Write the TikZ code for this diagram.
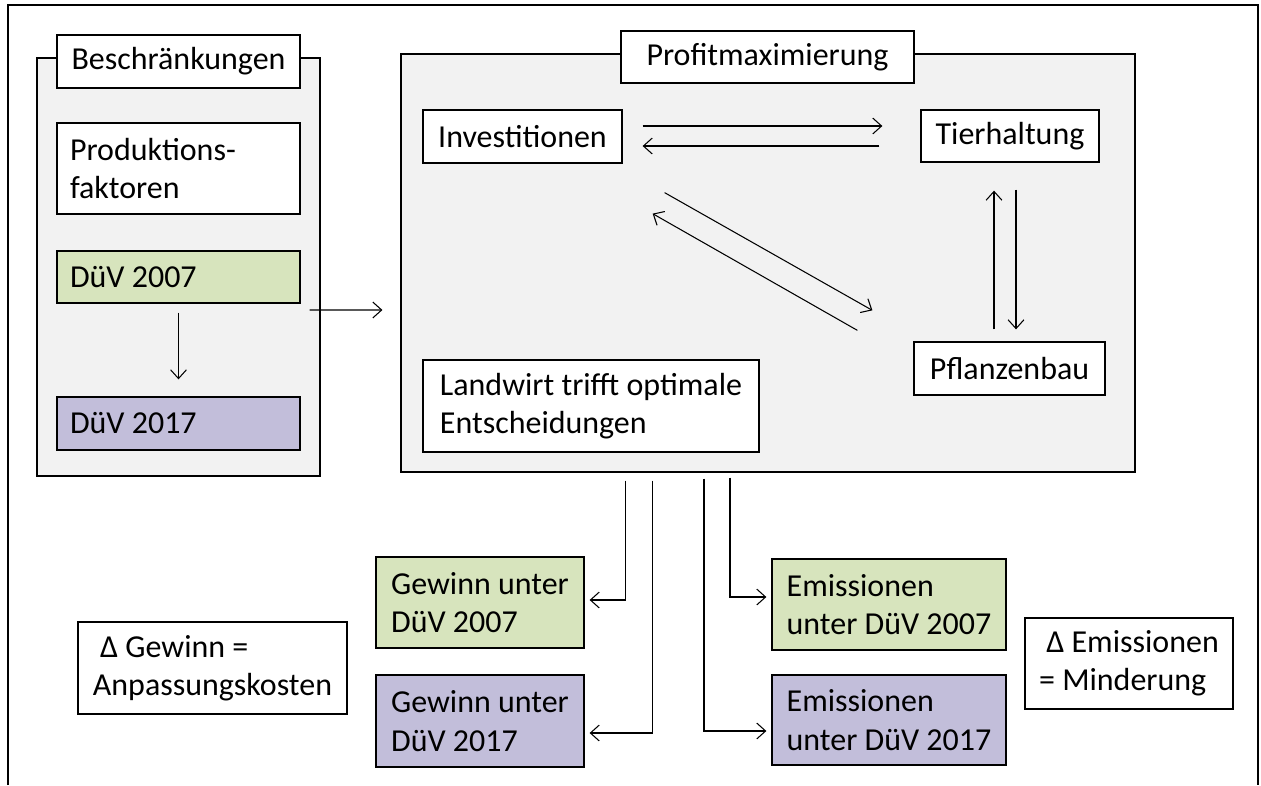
\documentclass[tikz,border=0pt]{standalone}
\usepackage{fontspec}
\setmainfont{Carlito}
\usetikzlibrary{arrows.meta}

\definecolor{framegray}{RGB}{242,242,242}
\definecolor{duvgreen}{RGB}{215,228,189}
\definecolor{duvpurple}{RGB}{194,190,218}

\tikzset{
  frame/.style={draw, fill=framegray, line width=0.75pt, inner sep=0pt},
  box/.style={draw, fill=white, line width=0.75pt, inner xsep=0.26cm, inner ysep=0pt},
  multibox/.style={box, align=left},
  widebox/.style={box, align=left, text width=4.34cm, execute at begin node={\spaceskip=0pt\xspaceskip=0pt\relax}},
}

\begin{document}
\begin{tikzpicture}[x=0.02cm, y=-0.02cm, font=\fontsize{18.2}{21.8}\selectfont,
  >={Straight Barb[length=5pt,width=9pt]}, line width=0.6pt]
\useasboundingbox (0,0) rectangle (1261,785);
\draw[line width=0.8pt] (8,785) -- (8,5) -- (1258,5) -- (1258,785);

\node[frame, minimum width=5.66cm, minimum height=8.36cm] (bframe) at (178.5,267) {};
\node[box, minimum width=4.86cm, minimum height=1.06cm] (besch) at (178.5,61.5) {Beschränkungen};
\node[widebox, minimum height=1.82cm] (prod) at (178.5,168.5) {Produktions-\\faktoren};
\node[widebox, fill=duvgreen, minimum height=1.04cm] (duv07) at (178.5,277) {DüV 2007};
\node[widebox, fill=duvpurple, minimum height=1.06cm] (duv17) at (178.5,423.5) {DüV 2017};

\node[frame, minimum width=14.68cm, minimum height=8.36cm] (pframe) at (768,263) {};
\node[box, minimum width=5.86cm, minimum height=1.04cm] (profit) at (767.5,57) {Profitmaximierung};
\node[box, minimum width=3.98cm, minimum height=1.06cm] (invest) at (522.5,136.5) {Investitionen};
\node[box, minimum width=3.56cm, minimum height=1.04cm] (tier) at (1010,136) {Tierhaltung};
\node[box, minimum width=3.82cm, minimum height=1.06cm] (pflanz) at (1009.5,368.5) {Pflanzenbau};
\node[multibox, minimum width=6.72cm, minimum height=1.84cm] (landwirt) at (591,406) {Landwirt trifft optimale\\Entscheidungen};

\node[multibox, fill=duvgreen, minimum width=4.16cm, minimum height=1.82cm] (gew07) at (480,602.5) {Gewinn unter\\DüV 2007};
\node[multibox, fill=duvpurple, minimum width=4.16cm, minimum height=1.84cm] (gew17) at (480,721) {Gewinn unter\\DüV 2017};
\node[multibox, fill=duvgreen, minimum width=4.68cm, minimum height=1.82cm] (emi07) at (889,604.5) {Emissionen\\unter DüV 2007};
\node[multibox, fill=duvpurple, minimum width=4.68cm, minimum height=1.80cm] (emi17) at (889,720) {Emissionen\\unter DüV 2017};
\node[multibox, minimum width=5.38cm, minimum height=1.84cm] (dgew) at (212.5,668) {~Δ Gewinn =\\Anpassungskosten};
\node[multibox, minimum width=4.16cm, minimum height=1.82cm] (demi) at (1129,663.5) {~Δ Emissionen\\= Minderung};

\draw[->, shorten <=0.18cm, shorten >=0.34cm] (duv07) -- (duv17);
\draw[->] ([shift={(-0.22cm,-0.86cm)}]bframe.east) -- ([shift={(-0.36cm,-0.94cm)}]pframe.west);

\draw[->, shorten <=0.4cm, shorten >=0.76cm] ([yshift=0.21cm]invest.east) -- ([yshift=0.21cm]invest.east -| tier.west);
\draw[->, shorten <=0.82cm, shorten >=0.4cm] ([yshift=-0.19cm]invest.east -| tier.west) -- ([yshift=-0.19cm]invest.east);
\draw[->] ([shift={(0.84cm,-0.58cm)}]invest.south east) -- ([shift={(-0.82cm,0.62cm)}]pflanz.north west);
\draw[->] ([shift={(-1.12cm,0.22cm)}]pflanz.north west) -- ([shift={(0.6cm,-1.0cm)}]invest.south east);
\draw[->, shorten <=0.24cm, shorten >=0.56cm] ([xshift=-0.31cm]pflanz.north) -- ([xshift=-0.31cm]pflanz.north |- tier.south);
\draw[->, shorten <=0.54cm, shorten >=0.24cm] ([xshift=0.13cm]pflanz.north |- tier.south) -- ([xshift=0.13cm]pflanz.north);

\draw[->] ([shift={(-2.86cm,-0.16cm)}]pframe.south) |- ([xshift=0.1cm, yshift=0.05cm]gew07.east);
\draw[->] ([shift={(-2.32cm,-0.16cm)}]pframe.south) |- ([xshift=0.1cm, yshift=-0.24cm]gew17.east);
\draw[->] ([shift={(-1.28cm,-0.12cm)}]pframe.south) |- ([xshift=-0.1cm, yshift=-0.22cm]emi17.west);
\draw[->] ([shift={(-0.76cm,-0.1cm)}]pframe.south) |- ([xshift=-0.1cm, yshift=0.15cm]emi07.west);
\end{tikzpicture}
\end{document}
